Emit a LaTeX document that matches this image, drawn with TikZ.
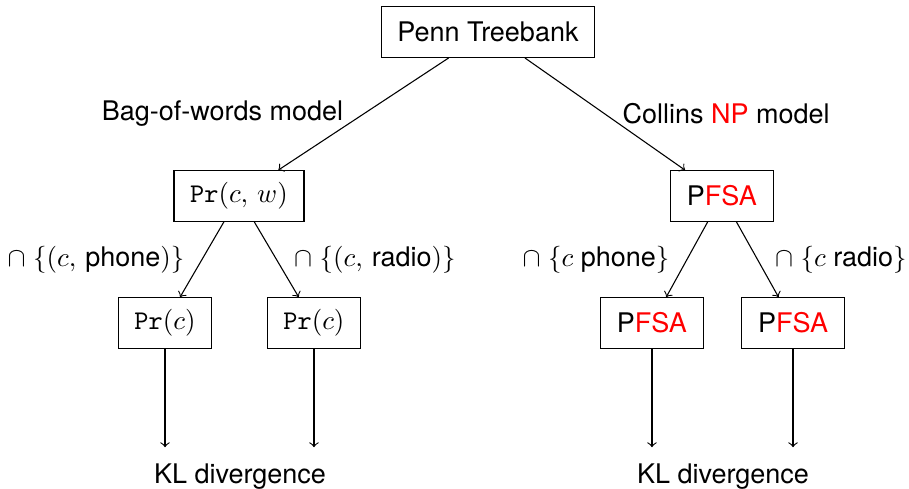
\documentclass[tikz,border=0pt]{standalone}
\usepackage{fontspec}
\setmainfont{TeX Gyre Heros}
\usepackage{tikz}
\usepackage{xcolor}
\usetikzlibrary{positioning,calc}

\begin{document}
\begin{tikzpicture}[box/.style={rectangle, draw, minimum height=0.66cm, inner xsep=6pt}]
\useasboundingbox (0,0) rectangle (11.833,-6.365);
% Radice
\node[box] (penn) at (6.352,-0.417) {Penn Treebank};

% Sinistra
\node[box] (prcw) at (3.111,-2.551) {$\mathtt{Pr}(c,\,w)$};
\node[box] (prc1) at (2.148,-4.204) {$\mathtt{Pr}(c)$};
\node[box] (prc2) at (4.087,-4.204) {$\mathtt{Pr}(c)$};
\node (kl1) at (3.124,-6.2) {KL divergence};

\draw[->] (penn) -- node[left=4pt] {Bag-of-words model} (prcw);
\draw[->] (prcw) -- node[left=3pt] {$\cap$~$\{(c,\,\mbox{phone})\}$} (prc1);
\draw[->] (prcw) -- node[right=3pt] {$\cap$~$\{(c,\,\mbox{radio})\}$} (prc2);
\draw[->, shorten >=2.5pt] (prc1) -- (prc1 |- kl1.north);
\draw[->, shorten >=2.5pt] (prc2) -- (prc2 |- kl1.north);

% Destra
\node[box] (pfsa) at (9.398,-2.551) {P\textcolor{red}{FSA}};
\node[box] (pfsa1) at (8.487,-4.204) {P\textcolor{red}{FSA}};
\node[box] (pfsa2) at (10.323,-4.204) {P\textcolor{red}{FSA}};
\node (kl2) at (9.411,-6.2) {KL divergence};

\draw[->] (penn) -- node[right=3pt] {Collins \textcolor{red}{NP} model} (pfsa);
\draw[->] (pfsa) -- node[left=3pt] {$\cap$~$\{c$ phone$\}$} (pfsa1);
\draw[->] (pfsa) -- node[right=3pt] {$\cap$~$\{c$ radio$\}$} (pfsa2);
\draw[->, shorten >=2.5pt] (pfsa1) -- (pfsa1 |- kl2.north);
\draw[->, shorten >=2.5pt] (pfsa2) -- (pfsa2 |- kl2.north);
\end{tikzpicture}
\end{document}
